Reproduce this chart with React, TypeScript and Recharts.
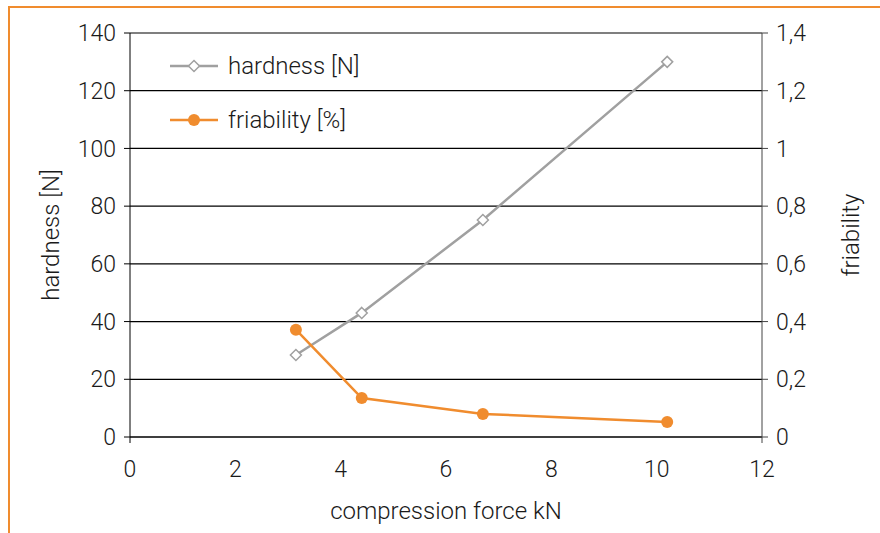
import { LineChart, Line, XAxis, YAxis, CartesianGrid, Label } from 'recharts'

const force = [3.15, 4.4, 6.7, 10.2]
const hardness = [28.4, 43, 75.2, 130]
const friability = [0.372, 0.135, 0.08, 0.052]

const xTicks = [0, 2, 4, 6, 8, 10, 12]
const leftTicks = [0, 20, 40, 60, 80, 100, 120, 140]
const rightTicks = [0, 0.2, 0.4, 0.6, 0.8, 1, 1.2, 1.4]

const ORANGE = '#f08c2e'
const GREY = '#a0a0a0'
const FONT = 'Roboto, "Open Sans", sans-serif'

const data = force.map((f, i) => ({ force: f, hardness: hardness[i], friability: friability[i] }))

const tickStyle = { fontSize: 23, fill: '#1a1a1a', fontFamily: FONT, fontWeight: 300 }
const labelStyle = { fontSize: 24, fill: '#1a1a1a', fontFamily: FONT, fontWeight: 300 }

const X_TICK_SIZE = 6
const X_TICK_MARGIN = 18

function Diamond(props: any) {
  const { cx, cy, index } = props
  if (cx == null || cy == null) return <g key={index} />
  const r = 5.5
  return (
    <path
      key={index}
      d={`M${cx},${cy - r}L${cx + r},${cy}L${cx},${cy + r}L${cx - r},${cy}Z`}
      fill="#fff"
      stroke={GREY}
      strokeWidth={1.5}
    />
  )
}

// x ticks: only the two end ticks get a small tick mark (axis line running on)
function XTick(props: any) {
  const { x, y, payload } = props
  const end = payload.value === xTicks[0] || payload.value === xTicks[xTicks.length - 1]
  const axisY = y - X_TICK_MARGIN - X_TICK_SIZE
  return (
    <g>
      {end && <line x1={x} x2={x} y1={axisY} y2={axisY + X_TICK_SIZE} stroke={payload.value === 0 ? '#000' : '#444'} />}
      <text x={x} y={y} dy="0.71em" textAnchor="middle" {...tickStyle}>
        {payload.value}
      </text>
    </g>
  )
}

// legend drawn on top of the plot, top-left corner
function LegendBox() {
  const rows = [
    { name: 'hardness [N]', color: GREY, diamond: true },
    { name: 'friability [%]', color: ORANGE, diamond: false },
  ]
  return (
    <svg width={260} height={90} style={{ position: 'absolute', left: 170, top: 56, overflow: 'visible' }}>
      {rows.map((r, i) => {
        const y = 10 + i * 54
        return (
          <g key={r.name}>
            <line x1={0} x2={48} y1={y} y2={y} stroke={r.color} strokeWidth={2.5} />
            {r.diamond ? (
              <path d={`M24,${y - 5.5}L29.5,${y}L24,${y + 5.5}L18.5,${y}Z`} fill="#fff" stroke={GREY} strokeWidth={1.5} />
            ) : (
              <circle cx={24} cy={y} r={6} fill={ORANGE} />
            )}
            <text x={58} y={y} dominantBaseline="central" fontSize={24} fill="#1a1a1a" fontFamily={FONT} fontWeight={300}>
              {r.name}
            </text>
          </g>
        )
      })}
    </svg>
  )
}

export default function App() {
  return (
    <div style={{ position: 'absolute', left: 0, top: 0, width: 880, height: 533, overflow: 'hidden', background: '#fff' }}>
      <div
        style={{
          position: 'absolute',
          left: 8,
          top: 6,
          width: 900,
          height: 540,
          borderTop: `2px solid ${ORANGE}`,
          borderLeft: `2px solid ${ORANGE}`,
        }}
      />
      <LineChart
        width={880}
        height={533}
        data={data}
        margin={{ top: 33, right: 0, bottom: 0, left: 0 }}
        style={{ position: 'absolute', left: 0, top: 0 }}
      >
        <CartesianGrid vertical={false} stroke="#000" strokeWidth={1.2} yAxisId="left" />
        <XAxis
          dataKey="force"
          type="number"
          domain={[0, 12]}
          ticks={xTicks}
          height={96}
          tickSize={X_TICK_SIZE}
          tickMargin={X_TICK_MARGIN}
          tickLine={false}
          stroke="#000"
          tick={XTick}
        >
          <Label value="compression force kN" position="insideBottom" offset={14} style={labelStyle} />
        </XAxis>
        <YAxis
          yAxisId="left"
          domain={[0, 140]}
          ticks={leftTicks}
          width={130}
          tickSize={6}
          tickMargin={8}
          stroke="#000"
          tick={tickStyle}
        >
          <Label value="hardness [N]" angle={-90} position="insideLeft" offset={50} style={{ ...labelStyle, textAnchor: 'middle' }} />
        </YAxis>
        <YAxis
          yAxisId="right"
          orientation="right"
          domain={[0, 1.4]}
          ticks={rightTicks}
          width={118}
          tickSize={6}
          tickMargin={8}
          stroke="#444"
          tick={tickStyle}
          tickFormatter={(v: number) => String(v).replace('.', ',')}
        >
          <Label value="friability" angle={-90} position="insideRight" offset={30} style={{ ...labelStyle, textAnchor: 'middle' }} />
        </YAxis>
        <Line
          yAxisId="left"
          dataKey="hardness"
          stroke={GREY}
          strokeWidth={2.5}
          dot={Diamond}
          activeDot={false}
          isAnimationActive={false}
        />
        <Line
          yAxisId="right"
          dataKey="friability"
          stroke={ORANGE}
          strokeWidth={2.5}
          dot={{ r: 6, fill: ORANGE, stroke: ORANGE, strokeWidth: 0 }}
          activeDot={false}
          isAnimationActive={false}
        />
      </LineChart>
      <LegendBox />
    </div>
  )
}
